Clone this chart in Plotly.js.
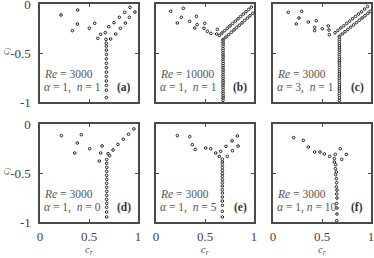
<!DOCTYPE html>
<html>
<head>
<meta charset="utf-8">
<script src="https://cdn.plot.ly/plotly-3.0.1.min.js"></script>
<style>html,body{margin:0;padding:0;background:#fff}#chart{width:374px;height:258px}</style>
</head>
<body>
<div id="chart"></div>
<script>
// Panel (a) Re=3000, alpha=1, n=1
const crA = [0.214,0.385,0.381,0.330,0.503,0.558,0.589,0.619,0.666,0.701,0.755,0.810,0.864,0.918,0.673,0.721,0.772,0.820,0.871,0.912,0.969,
  0.676,0.677,0.677,0.678,0.677,0.677,0.678,0.677,0.677,0.677,0.678,0.677,0.677];
const ciA = [-0.112,-0.061,-0.204,-0.272,-0.248,-0.197,-0.350,-0.309,-0.293,-0.231,-0.190,-0.136,-0.085,-0.034,-0.361,-0.357,-0.306,-0.248,-0.194,-0.136,-0.082,
  -0.400,-0.430,-0.470,-0.515,-0.560,-0.605,-0.650,-0.695,-0.740,-0.785,-0.830,-0.880,-0.955];

// Panel (b) Re=10000, alpha=1, n=1
const crB = [0.150,0.279,0.259,0.218,0.344,0.412,0.420,0.395,0.497,0.490,0.524,0.626,0.619,0.560,
  0.646,0.673,0.701,0.728,0.755,0.782,0.810,0.837,0.864,0.891,0.918,0.946,0.973,
  0.687,0.714,0.741,0.769,0.796,0.823,0.850,0.878,0.905,0.932,0.959,0.986,
  0.684,0.684,0.685,0.684,0.684,0.685,0.684,0.684,0.685,0.684,0.684,0.685,0.684,0.684,0.685,0.684,0.684,0.685,0.684,0.684,0.685,0.684,0.684,0.685,0.684,0.684,0.685,0.684,0.684];
const ciB = [-0.075,-0.044,-0.136,-0.194,-0.177,-0.126,-0.210,-0.245,-0.197,-0.248,-0.279,-0.259,-0.306,-0.300,
  -0.320,-0.296,-0.272,-0.248,-0.224,-0.199,-0.175,-0.151,-0.127,-0.103,-0.079,-0.055,-0.031,
  -0.361,-0.337,-0.313,-0.289,-0.265,-0.241,-0.217,-0.193,-0.168,-0.144,-0.120,-0.096,
  -0.370,-0.390,-0.410,-0.432,-0.455,-0.475,-0.497,-0.520,-0.542,-0.565,-0.585,-0.608,-0.630,-0.652,-0.675,-0.697,-0.720,-0.740,-0.762,-0.785,-0.805,-0.828,-0.850,-0.872,-0.895,-0.915,-0.938,-0.960,-0.983];

// Panel (c) Re=3000, alpha=3, n=1
const crC = [0.156,0.293,0.265,0.238,0.361,0.442,0.425,0.425,0.503,0.565,0.571,0.575,
  0.633,0.662,0.692,0.722,0.752,0.782,0.812,0.842,0.872,0.902,0.935,0.965,
  0.677,0.706,0.735,0.764,0.793,0.822,0.851,0.880,0.909,0.938,0.967,0.993,
  0.677,0.678,0.677,0.677,0.678,0.677,0.677,0.678,0.677,0.677,0.678,0.677,0.677,0.678,0.677,0.677,0.678,0.677,0.677,0.678,0.677,0.677,0.678,0.677,0.677,0.678,0.677,0.677,0.678,0.677];
const ciC = [-0.085,-0.075,-0.143,-0.204,-0.184,-0.170,-0.238,-0.272,-0.252,-0.224,-0.265,-0.313,
  -0.293,-0.270,-0.245,-0.222,-0.198,-0.175,-0.150,-0.127,-0.103,-0.080,-0.052,-0.025,
  -0.330,-0.306,-0.283,-0.260,-0.236,-0.213,-0.190,-0.166,-0.143,-0.120,-0.097,-0.075,
  -0.340,-0.362,-0.384,-0.406,-0.428,-0.450,-0.472,-0.494,-0.516,-0.538,-0.560,-0.582,-0.604,-0.626,-0.648,-0.670,-0.692,-0.714,-0.736,-0.758,-0.780,-0.802,-0.824,-0.846,-0.868,-0.890,-0.912,-0.935,-0.958,-0.985];

// Panel (d) Re=3000, alpha=1, n=0
const crD = [0.218,0.422,0.381,0.354,0.507,0.633,0.619,0.605,0.694,0.711,0.745,0.795,0.850,0.903,0.958,
  0.680,0.680,0.681,0.680,0.680,0.681,0.680,0.680,0.681,0.680,0.680,0.681,0.680,0.680,0.680];
const ciD = [-0.119,-0.109,-0.194,-0.296,-0.252,-0.224,-0.296,-0.378,-0.303,-0.323,-0.265,-0.208,-0.155,-0.105,-0.050,
  -0.364,-0.401,-0.442,-0.483,-0.524,-0.565,-0.605,-0.646,-0.687,-0.728,-0.769,-0.810,-0.850,-0.898,-0.949];

// Panel (e) Re=3000, alpha=1, n=5
const crE = [0.218,0.344,0.371,0.401,0.507,0.558,0.609,0.646,0.660,0.714,0.776,0.830,0.728,0.780,0.838,
  0.677,0.677,0.678,0.677,0.677,0.678,0.677,0.677,0.678,0.677,0.677,0.678,0.677,0.677,0.678,0.677,0.677];
const ciE = [-0.119,-0.129,-0.211,-0.259,-0.245,-0.252,-0.296,-0.330,-0.279,-0.228,-0.172,-0.122,-0.330,-0.272,-0.225,
  -0.360,-0.388,-0.415,-0.446,-0.476,-0.507,-0.534,-0.568,-0.599,-0.633,-0.670,-0.704,-0.745,-0.786,-0.830,-0.891,-0.949];

// Panel (f) Re=3000, alpha=1, n=10
const crF = [0.211,0.310,0.361,0.425,0.480,0.524,0.578,0.626,0.636,0.687,0.748,0.701,
  0.626,0.640,0.636,0.646,0.640,0.646,0.650,0.646,0.653,0.650,0.653,0.650,0.653,0.653,0.650];
const ciF = [-0.139,-0.167,-0.235,-0.286,-0.286,-0.306,-0.330,-0.354,-0.310,-0.252,-0.310,-0.361,
  -0.388,-0.415,-0.456,-0.490,-0.517,-0.558,-0.599,-0.640,-0.674,-0.714,-0.755,-0.810,-0.857,-0.918,-0.986];

const panelLabels = ['(a)','(b)','(c)','(d)','(e)','(f)'];
const reTexts = ['<i>Re</i> = 3000','<i>Re</i> = 10000','<i>Re</i> = 3000','<i>Re</i> = 3000','<i>Re</i> = 3000','<i>Re</i> = 3000'];
const parTexts = ['<i>α</i> = 1,  <i>n</i> = 1','<i>α</i> = 1,  <i>n</i> = 1','<i>α</i> = 3,  <i>n</i> = 1','<i>α</i> = 1,  <i>n</i> = 0','<i>α</i> = 1,  <i>n</i> = 5','<i>α</i> = 1, <i>n</i> = 10'];
const xTickVals = [0, 0.5, 1];
const xTickText = ['0', '0.5', '1'];
const yTickVals = [0, -0.5, -1];
const yTickText = ['0', '-0.5', '-1'];

const series = [[crA,ciA],[crB,ciB],[crC,ciC],[crD,ciD],[crE,ciE],[crF,ciF]];

const W = 374, H = 258;
const colPx = [[40,138],[156,254],[273,371]];
const rowPx = [[4,102],[124,222]];
const serif = 'Liberation Serif';
const frameColor = '#4a4a4a';
const textColor = '#444';

const traces = [];
const layout = {
  width: W, height: H,
  margin: {l:0, r:0, t:0, b:0},
  paper_bgcolor: '#fff', plot_bgcolor: '#fff',
  showlegend: false,
  font: {family: serif, size: 12, color: textColor},
  annotations: []
};

for (let i = 0; i < 6; i++) {
  const row = Math.floor(i / 3), col = i % 3;
  const xa = i === 0 ? 'xaxis' : 'xaxis' + (i + 1);
  const ya = i === 0 ? 'yaxis' : 'yaxis' + (i + 1);
  const xr = i === 0 ? 'x' : 'x' + (i + 1);
  const yr = i === 0 ? 'y' : 'y' + (i + 1);
  traces.push({
    type: 'scatter', mode: 'markers',
    x: series[i][0], y: series[i][1],
    xaxis: xr, yaxis: yr,
    marker: {symbol: 'circle', size: 2.6, color: '#fff', line: {color: '#222', width: 1}},
    hoverinfo: 'skip', cliponaxis: false
  });
  layout[xa] = {
    domain: [colPx[col][0] / W, colPx[col][1] / W],
    anchor: yr, range: [0, 1], fixedrange: true,
    showgrid: false, zeroline: false,
    showline: true, mirror: 'ticks', linecolor: frameColor, linewidth: 1.6,
    ticks: 'inside', ticklen: 3, tickwidth: 1, tickcolor: frameColor,
    tickvals: xTickVals, ticktext: xTickText,
    showticklabels: row === 1,
    tickfont: {family: serif, size: 13, color: textColor},
    ticklabelstandoff: 2, ticklabeloverflow: 'allow'
  };
  layout[ya] = {
    domain: [1 - rowPx[row][1] / H, 1 - rowPx[row][0] / H],
    anchor: xr, range: [-1, 0], fixedrange: true,
    showgrid: false, zeroline: false,
    showline: true, mirror: 'ticks', linecolor: frameColor, linewidth: 1.6,
    ticks: 'inside', ticklen: 3, tickwidth: 1, tickcolor: frameColor,
    tickvals: yTickVals, ticktext: yTickText,
    showticklabels: col === 0,
    tickfont: {family: serif, size: 13, color: textColor},
    ticklabelstandoff: 5, ticklabeloverflow: 'allow'
  };
  layout.annotations.push({
    xref: xr, yref: yr, x: 0.02, y: -0.71, xanchor: 'left', yanchor: 'middle',
    text: reTexts[i], showarrow: false, font: {family: serif, size: 11.5, color: '#555'}
  });
  layout.annotations.push({
    xref: xr, yref: yr, x: 0.02, y: -0.855, xanchor: 'left', yanchor: 'middle',
    text: parTexts[i], showarrow: false, font: {family: serif, size: 11.5, color: '#555'}
  });
  layout.annotations.push({
    xref: xr, yref: yr, x: 0.86, y: -0.855, xanchor: 'center', yanchor: 'middle',
    text: '<b>' + panelLabels[i] + '</b>', showarrow: false, font: {family: serif, size: 11.5, color: '#333'}
  });
  if (row === 1) {
    layout.annotations.push({
      xref: 'paper', yref: 'paper', x: (colPx[col][0] + colPx[col][1]) / 2 / W, y: 0,
      xanchor: 'center', yanchor: 'bottom', borderpad: 0,
      text: '<i>c<sub>r</sub></i>', showarrow: false, font: {family: serif, size: 10.5, color: '#555'}
    });
  }
  if (col === 0) {
    layout.annotations.push({
      xref: 'paper', yref: 'paper', x: 6 / W, y: 1 - ((rowPx[row][0] + rowPx[row][1]) / 2 - 1) / H,
      xanchor: 'center', yanchor: 'middle', textangle: -90,
      text: '<i>c<sub>i</sub></i>', showarrow: false, font: {family: serif, size: 11, color: '#555'}
    });
  }
}

Plotly.newPlot('chart', traces, layout, {staticPlot: true, displayModeBar: false});
</script>
</body>
</html>
